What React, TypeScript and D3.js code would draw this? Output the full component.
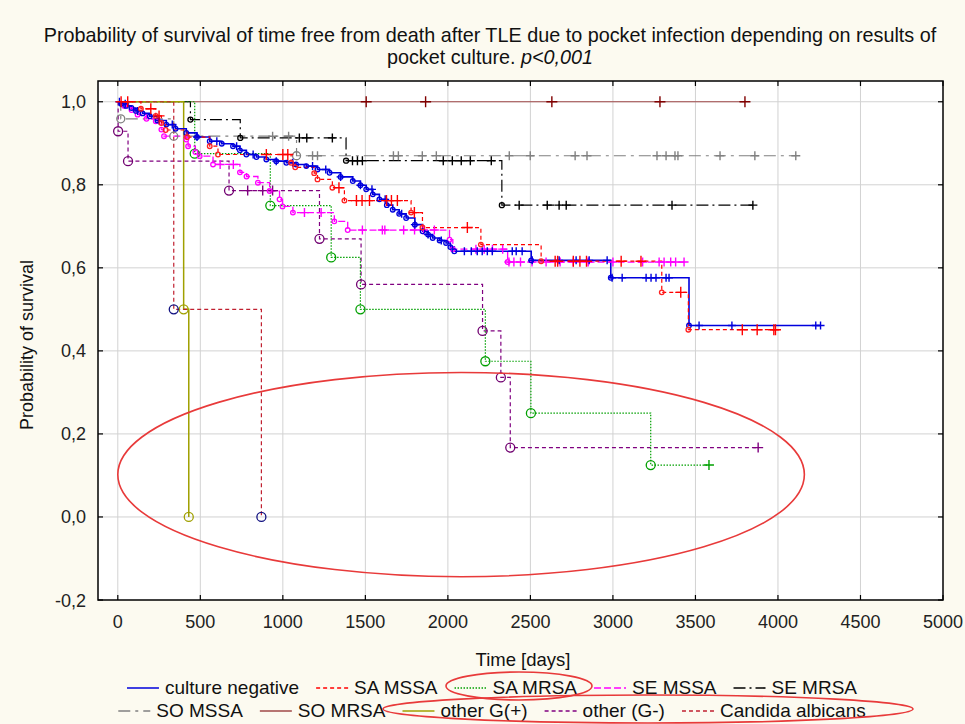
import React, { useEffect, useRef } from 'react';
import * as d3 from 'd3';

type Ev = [number, number];

const xTicks = [0, 500, 1000, 1500, 2000, 2500, 3000, 3500, 4000, 4500, 5000];
const yTicks = [-0.2, 0, 0.2, 0.4, 0.6, 0.8, 1.0];

const seriesNames = [
  'culture negative', 'SA MSSA', 'SA MRSA', 'SE MSSA', 'SE MRSA',
  'SO MSSA', 'SO MRSA', 'other G(+)', 'other (G-)', 'Candida albicans',
];

// [day, survival after event]
const cultureNegEvents: Ev[] = [
  [20, 0.995], [50, 0.99], [83, 0.985], [110, 0.978], [150, 0.972], [194, 0.965], [240, 0.955],
  [294, 0.945], [350, 0.935], [415, 0.925], [480, 0.915], [557, 0.905], [630, 0.899], [698, 0.893],
  [740, 0.883], [779, 0.873], [840, 0.867], [900, 0.861], [960, 0.857], [1021, 0.853], [1080, 0.849],
  [1142, 0.845], [1210, 0.837], [1283, 0.829], [1350, 0.819], [1424, 0.809], [1470, 0.799],
  [1505, 0.789], [1545, 0.777], [1585, 0.765], [1630, 0.751], [1666, 0.74], [1705, 0.73],
  [1747, 0.72], [1800, 0.704], [1847, 0.688], [1880, 0.68], [1908, 0.672], [1950, 0.666],
  [1989, 0.66], [2015, 0.65], [2039, 0.64], [2505, 0.618], [2987, 0.576], [3461, 0.461],
];
const cultureNegCensored = [
  10, 45, 120, 250, 330, 480, 600, 720, 820, 960, 1060, 1180, 1260, 1350, 1470, 1540, 1620, 1720,
  1800, 1880, 1960, 2100, 2142, 2178, 2208, 2239, 2269, 2390, 2414, 2450, 2511, 2674, 2777, 2856,
  2965, 2995, 3056, 3201, 3231, 3261, 3322, 3340, 3522, 3721, 4229, 4258,
];
const cultureNegEnd = 4258;

const saMssaEvents: Ev[] = [
  [140, 0.983], [230, 0.966], [264, 0.949], [290, 0.932], [420, 0.915], [557, 0.893], [607, 0.873],
  [1050, 0.853], [1075, 0.842], [1190, 0.828], [1210, 0.813], [1300, 0.793], [1373, 0.762],
  [1777, 0.733], [1846, 0.697], [2200, 0.656], [2565, 0.616], [3296, 0.541], [3457, 0.451],
];
const saMssaCensored = [
  20, 60, 200, 250, 900, 1000, 1030, 1340, 1446, 1480, 1525, 1628, 1658, 1694, 1797, 2118, 2650,
  2665, 2760, 2800, 2840, 3050, 3170, 3411, 3784, 3874, 3975, 3985,
];
const saMssaEnd = 3985;

const saMrsaEvents: Ev[] = [
  [466, 0.875], [924, 0.75], [1293, 0.625], [1470, 0.5], [2227, 0.375], [2503, 0.25], [3229, 0.125],
];
const saMrsaCensored = [3582];
const saMrsaEnd = 3582;

const seMssaEvents: Ev[] = [
  [40, 0.99], [83, 0.98], [120, 0.969], [174, 0.959], [230, 0.953], [264, 0.933], [280, 0.917],
  [415, 0.909], [426, 0.893], [470, 0.879], [496, 0.869], [577, 0.849], [740, 0.83], [780, 0.82],
  [849, 0.805], [920, 0.785], [980, 0.765], [998, 0.748], [1061, 0.733], [1312, 0.712],
  [1393, 0.691], [2010, 0.668], [2030, 0.645], [2362, 0.614],
];
const seMssaCensored = [
  620, 700, 1131, 1232, 1482, 1603, 1618, 1732, 1798, 1852, 1918, 2170, 2220, 2270, 2332, 2370,
  2400, 2440, 2510, 2595, 2680, 2760, 2850, 3000, 3180, 3280, 3310, 3350, 3380, 3431,
];
const seMssaEnd = 3431;

const seMrsaEvents: Ev[] = [[440, 0.957], [742, 0.913], [1383, 0.858], [2327, 0.751]];
const seMrsaCensored = [
  1100, 1145, 1300, 1422, 1452, 1482, 1972, 2027, 2081, 2136, 2263, 2432, 2602, 2674, 2717, 3358, 3848,
];
const seMrsaEnd = 3850;

const soMssaEvents: Ev[] = [[18, 0.959], [339, 0.917], [1083, 0.87]];
const soMssaCensored = [
  938, 1035, 1180, 1210, 1670, 1700, 1845, 1930, 2372, 2499, 2771, 2843, 3267, 3322, 3376, 3394,
  3649, 3860, 4108,
];
const soMssaEnd = 4108;

const soMrsaEvents: Ev[] = [];
const soMrsaCensored = [1505, 1865, 2630, 3285, 3800];
const soMrsaEnd = 3800;

const otherGposEvents: Ev[] = [[399, 0.5], [430, 0]];
const otherGposCensored: number[] = [];
const otherGposEnd = 430;

const otherGnegEvents: Ev[] = [
  [2, 0.929], [62, 0.857], [674, 0.786], [1222, 0.67], [1474, 0.56], [2210, 0.448], [2321, 0.336],
  [2378, 0.167],
];
const otherGnegCensored = [787, 878, 938, 3880];
const otherGnegEnd = 3880;

const candidaEvents: Ev[] = [[339, 0.5], [870, 0]];
const candidaCensored: number[] = [];
const candidaEnd = 870;

// drawing styles, same order as seriesNames
const styles = [
  { color: '#0000dd', dash: '', w: 1.6, r: 2.3, rc: '#0000dd', p: 4, pc: '#0000dd' },
  { color: '#ff0000', dash: '4,3', w: 1.2, r: 2.3, rc: '#ff2020', p: 5.5, pc: '#ff0000' },
  { color: '#00a000', dash: '1.5,1.5', w: 1.2, r: 4.5, rc: '#00a000', p: 5, pc: '#00a000' },
  { color: '#ff00ff', dash: '7,3', w: 1.3, r: 2.3, rc: '#ff00ff', p: 4.5, pc: '#ff00ff' },
  { color: '#000000', dash: '12,4,2,4', w: 1.2, r: 2.5, rc: '#000000', p: 4.5, pc: '#000000' },
  { color: '#808080', dash: '12,5,3,5', w: 1.2, r: 4, rc: '#808080', p: 4.5, pc: '#808080' },
  { color: '#a04848', dash: '', w: 1.2, r: 3, rc: '#800000', p: 5.5, pc: '#800000' },
  { color: '#a0a000', dash: '', w: 1.5, r: 4.5, rc: '#a0a000', p: 5, pc: '#a0a000' },
  { color: '#800080', dash: '4,3', w: 1.2, r: 4.5, rc: '#700070', p: 5, pc: '#800080' },
  { color: '#c02030', dash: '4,3', w: 1.2, r: 4.5, rc: '#101080', p: 5, pc: '#c02030' },
];

const legendRows = [[0, 1, 2, 3, 4], [5, 6, 7, 8, 9]];

const App = () => {
  const svgRef = useRef<SVGSVGElement>(null);

  useEffect(() => {
    document.body.style.margin = '0';
    const svg = d3.select(svgRef.current);
    svg.selectAll('*').remove();
    const font = 'Liberation Sans, Arial, sans-serif';

    const data = [
      { events: cultureNegEvents, censored: cultureNegCensored, end: cultureNegEnd },
      { events: saMssaEvents, censored: saMssaCensored, end: saMssaEnd },
      { events: saMrsaEvents, censored: saMrsaCensored, end: saMrsaEnd },
      { events: seMssaEvents, censored: seMssaCensored, end: seMssaEnd },
      { events: seMrsaEvents, censored: seMrsaCensored, end: seMrsaEnd },
      { events: soMssaEvents, censored: soMssaCensored, end: soMssaEnd },
      { events: soMrsaEvents, censored: soMrsaCensored, end: soMrsaEnd },
      { events: otherGposEvents, censored: otherGposCensored, end: otherGposEnd },
      { events: otherGnegEvents, censored: otherGnegCensored, end: otherGnegEnd },
      { events: candidaEvents, censored: candidaCensored, end: candidaEnd },
    ];

    svg.append('rect').attr('width', 965).attr('height', 724).attr('fill', '#fcfaf0');

    const left = 98, right = 943, top = 81, bottom = 600;
    const x = d3.scaleLinear().domain([-120, 5000]).range([left, right]);
    const y = d3.scaleLinear().domain([-0.2, 1.05]).range([bottom, top]);

    svg.append('rect').attr('x', left).attr('y', top)
      .attr('width', right - left).attr('height', bottom - top).attr('fill', '#ffffff');

    // grid
    const grid = svg.append('g').attr('stroke', '#d2d2d2').attr('stroke-width', 1);
    xTicks.slice(0, -1).forEach(t => {
      grid.append('line').attr('x1', x(t)).attr('x2', x(t)).attr('y1', top).attr('y2', bottom);
    });
    yTicks.slice(1).forEach(t => {
      grid.append('line').attr('x1', left).attr('x2', right).attr('y1', y(t)).attr('y2', y(t));
    });

    // plot frame + inward ticks
    const axes = svg.append('g').attr('stroke', '#000').attr('stroke-width', 1.2);
    xTicks.forEach(t => {
      axes.append('line').attr('x1', x(t)).attr('x2', x(t)).attr('y1', bottom).attr('y2', bottom - 5);
      axes.append('line').attr('x1', x(t)).attr('x2', x(t)).attr('y1', top).attr('y2', top + 5);
    });
    yTicks.forEach(t => {
      axes.append('line').attr('x1', left).attr('x2', left + 5).attr('y1', y(t)).attr('y2', y(t));
      axes.append('line').attr('x1', right).attr('x2', right - 5).attr('y1', y(t)).attr('y2', y(t));
    });

    const fmt = (v: number) => d3.format('.1f')(v).replace('\u2212', '-').replace('.', ',');
    svg.append('g').selectAll('text').data(xTicks).enter().append('text')
      .attr('x', d => x(d)).attr('y', 628).attr('text-anchor', 'middle')
      .attr('font-family', font).attr('font-size', 18).attr('fill', '#222')
      .text(d => String(d));
    svg.append('g').selectAll('text').data(yTicks).enter().append('text')
      .attr('x', 86).attr('y', d => y(d) + 6.5).attr('text-anchor', 'end')
      .attr('font-family', font).attr('font-size', 18).attr('fill', '#222')
      .text(d => fmt(d));

    // curves
    const line = d3.line<Ev>().x(d => x(d[0])).y(d => y(d[1])).curve(d3.curveStepAfter);
    const survAt = (ev: Ev[], t: number) => {
      let s = 1;
      ev.forEach(e => { if (e[0] <= t) s = e[1]; });
      return s;
    };
    const drawOrder = [6, 5, 4, 8, 2, 7, 9, 3, 0, 1];
    const curves = svg.append('g');
    drawOrder.forEach(i => {
      const s = data[i], st = styles[i];
      const last = s.events.length ? s.events[s.events.length - 1][1] : 1;
      const pts: Ev[] = [[0, 1], ...s.events, [s.end, last]];
      curves.append('path').attr('d', line(pts)).attr('fill', 'none')
        .attr('stroke', st.color).attr('stroke-width', st.w)
        .attr('stroke-dasharray', st.dash || null);
    });
    drawOrder.forEach(i => {
      const s = data[i], st = styles[i];
      const g = curves.append('g');
      g.selectAll('circle').data(s.events).enter().append('circle')
        .attr('cx', d => x(d[0])).attr('cy', d => y(d[1])).attr('r', st.r)
        .attr('fill', 'none').attr('stroke', st.rc).attr('stroke-width', 1.3);
      g.selectAll('path').data(s.censored).enter().append('path')
        .attr('d', d => {
          const cx = x(d), cy = y(survAt(s.events, d));
          return `M${cx - st.p},${cy}H${cx + st.p}M${cx},${cy - st.p}V${cy + st.p}`;
        })
        .attr('stroke', st.pc).attr('stroke-width', 1.4).attr('fill', 'none');
    });

    svg.append('rect').attr('x', left).attr('y', top)
      .attr('width', right - left).attr('height', bottom - top)
      .attr('fill', 'none').attr('stroke', '#000').attr('stroke-width', 1.5);

    // annotation ellipse in plot
    svg.append('ellipse')
      .attr('cx', x(2080)).attr('cy', y(0.102))
      .attr('rx', x(2080) - x(0)).attr('ry', y(-0.144) - y(0.102))
      .attr('fill', 'none').attr('stroke', '#e83a3a').attr('stroke-width', 1.6);

    // titles
    const title = svg.append('text').attr('x', 490).attr('text-anchor', 'middle')
      .attr('font-family', font).attr('font-size', 19.8).attr('fill', '#111');
    title.append('tspan').attr('x', 490).attr('y', 42)
      .text('Probability of survival of time free from death after TLE due to pocket infection depending on results of');
    const l2 = title.append('tspan').attr('x', 490).attr('y', 64);
    l2.append('tspan').text('pocket culture. ');
    l2.append('tspan').attr('font-style', 'italic').text('p<0,001');

    svg.append('text').attr('transform', 'translate(33,345) rotate(-90)')
      .attr('text-anchor', 'middle').attr('font-family', font).attr('font-size', 18)
      .attr('fill', '#111').text('Probability of survival');
    svg.append('text').attr('x', 523).attr('y', 666).attr('text-anchor', 'middle')
      .attr('font-family', font).attr('font-size', 18.5).attr('fill', '#111').text('Time [days]');

    // legend
    const rowY = [694, 717];
    const sample = 32, gapIn = 6, gapOut = 17;
    legendRows.forEach((row, ri) => {
      const g = svg.append('g');
      const widths: number[] = [];
      row.forEach(i => {
        const t = g.append('text').attr('font-family', font).attr('font-size', 19).text(seriesNames[i]);
        widths.push((t.node() as SVGTextElement).getComputedTextLength());
        t.remove();
      });
      const total = d3.sum(widths) + row.length * (sample + gapIn) + (row.length - 1) * gapOut;
      let cx = 492 - total / 2;
      row.forEach((i, k) => {
        const st = styles[i];
        g.append('line').attr('x1', cx).attr('x2', cx + sample)
          .attr('y1', rowY[ri] - 6).attr('y2', rowY[ri] - 6)
          .attr('stroke', st.color).attr('stroke-width', 1.6)
          .attr('stroke-dasharray', st.dash || null);
        g.append('text').attr('x', cx + sample + gapIn).attr('y', rowY[ri])
          .attr('font-family', font).attr('font-size', 19).attr('fill', '#111')
          .text(seriesNames[i]);
        cx += sample + gapIn + widths[k] + gapOut;
      });
    });

    // legend annotation ellipses
    svg.append('ellipse').attr('cx', 519).attr('cy', 686).attr('rx', 73).attr('ry', 14)
      .attr('fill', 'none').attr('stroke', '#e83a3a').attr('stroke-width', 1.6);
    svg.append('ellipse').attr('cx', 648).attr('cy', 709).attr('rx', 265).attr('ry', 14)
      .attr('fill', 'none').attr('stroke', '#e83a3a').attr('stroke-width', 1.6);
  }, []);

  return <svg ref={svgRef} width={965} height={724} style={{ display: 'block' }}></svg>;
};

export default App;
